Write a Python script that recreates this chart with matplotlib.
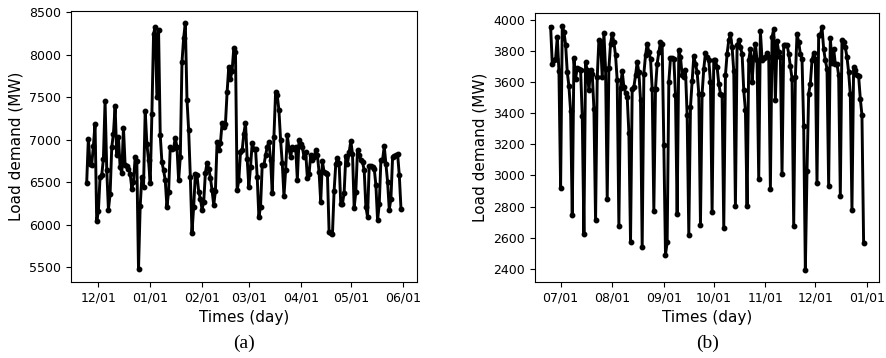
import matplotlib
matplotlib.use("Agg")
import matplotlib.pyplot as plt
import matplotlib.dates as mdates
import pandas as pd

# daily load, Nov 24 -> May 31
days_a = pd.date_range("2020-11-24", "2021-05-31", freq="D")
load_a = [
    6493, 7014, 6720, 6709, 6924, 7190, 6044,
    6161, 6564, 6583, 6779, 7456, 6650, 6180, 6360, 6916, 7073, 7393, 6818, 7033, 6681, 6611,
    7143, 6701, 6689, 6662, 6603, 6427, 6505, 6799, 6748, 5476, 6220, 6564, 6447, 7339, 6955, 6760,
    6493, 7300, 8247, 8333, 7503, 8294, 7053, 6740, 6642, 6525, 6212, 6388, 6916, 6897, 6900,
    7026, 6916, 6525, 6799, 7914, 8200, 8372, 7472, 7112, 6564, 5910, 6212, 6595, 6583, 6388, 6310,
    6180, 6270, 6611, 6732, 6662, 6556, 6407, 6231, 6400, 6975, 6877, 6963, 7198, 7151,
    7190, 7562, 7863, 7718, 7816, 8082, 8039, 6407, 6525, 6857, 6877, 7073, 7198, 6779,
    6447, 6681, 6963, 6889, 6889, 6564, 6094, 6212, 6701, 6701, 6818, 6916, 6975, 6767, 6376, 7033,
    7562, 7523, 7347, 6994, 6728, 6337, 6642, 7053, 6897, 6799, 6916, 6897, 6916, 6533, 6994,
    6955, 6916, 6799, 6857, 6556, 6595, 6818, 6760, 6799, 6877, 6818, 6623, 6270, 6748, 6623,
    6611, 6603, 5918, 5899, 5887, 6400, 6713, 6791, 6728, 6243, 6251, 6376, 6807, 6720, 6857,
    6987, 6838, 6204, 6388, 6877, 6818, 6760, 6740, 6642, 6212, 6094, 6693, 6693, 6681, 6662, 6466,
    6055, 6243, 6760, 6767, 6924, 6720, 6505, 6180, 6310, 6799, 6807, 6818, 6830, 6583, 6192,
]

# daily load, Jun 25 -> Dec 30
days_b = pd.date_range("2021-06-25", "2021-12-30", freq="D")
load_b = [
    3955, 3717, 3738, 3749, 3887, 3668,
    2922, 3962, 3919, 3840, 3663, 3572, 3414, 2748, 3753, 3621, 3691, 3685, 3678, 3380, 2626, 3727,
    3674, 3546, 3678, 3653, 3429, 2711, 3631, 3870, 3855, 3631, 3913, 3685, 2849, 3689, 3845,
    3908, 3855, 3770, 3610, 2677, 3563, 3670, 3567, 3529, 3504, 3274, 2573, 3557, 3567, 3642, 3727,
    3663, 3487, 2539, 3653, 3770, 3845, 3791, 3749, 3557, 2773, 3557, 3717, 3791, 3855, 3845,
    3195, 2492, 2571, 3600, 3753, 3753, 3749, 3514, 2754, 3802, 3759, 3642, 3632, 3674, 3387,
    2620, 3440, 3604, 3766, 3717, 3663, 3525, 2684, 3525, 3685, 3785, 3759, 3738, 3600, 2762,
    3742, 3738, 3695, 3589, 3525, 3514, 2662, 3642, 3781, 3866, 3908, 3823, 3670, 2801, 3834, 3866,
    3823, 3781, 3546, 3419, 2805, 3738, 3813, 3600, 3759, 3845, 3738, 2976, 3925, 3742, 3753,
    3759, 3785, 3759, 2912, 3887, 3940, 3482, 3862, 3791, 3759, 3010, 3834, 3840, 3840, 3781,
    3700, 3621, 2677, 3632, 3908, 3855, 3780, 3749, 3316, 2396, 3029, 3525, 3589, 3738, 3785,
    3749, 2950, 3898, 3898, 3951, 3813, 3738, 3685, 2933, 3881, 3721, 3813, 3717, 3717, 3642, 2871,
    3870, 3855, 3823, 3759, 3663, 3521, 2780, 3695, 3674, 3642, 3637, 3493, 3387, 2567,
]

fig = plt.figure(figsize=(8.86, 3.58), dpi=100)
ax1 = fig.add_axes([0.0801, 0.2131, 0.3902, 0.7562])
ax2 = fig.add_axes([0.6038, 0.2131, 0.3886, 0.7497])

for ax, x, y, tag in [(ax1, days_a, load_a, "(a)"), (ax2, days_b, load_b, "(b)")]:
    ax.plot(x, y, color="black", lw=2.1, marker="o", markersize=3.2)
    ax.xaxis.set_major_locator(mdates.MonthLocator())
    ax.xaxis.set_major_formatter(mdates.DateFormatter("%m/%d"))
    ax.tick_params(labelsize=9)
    ax.set_xlabel("Times (day)", fontsize=11)
    ax.set_ylabel("Load demand (MW)", fontsize=11)
    pos = ax.get_position()
    fig.text((pos.x0 + pos.x1) / 2, 0.04, tag, ha="center", va="center",
             fontsize=14, family="Liberation Serif")

fig.savefig("out.png", dpi=100)
